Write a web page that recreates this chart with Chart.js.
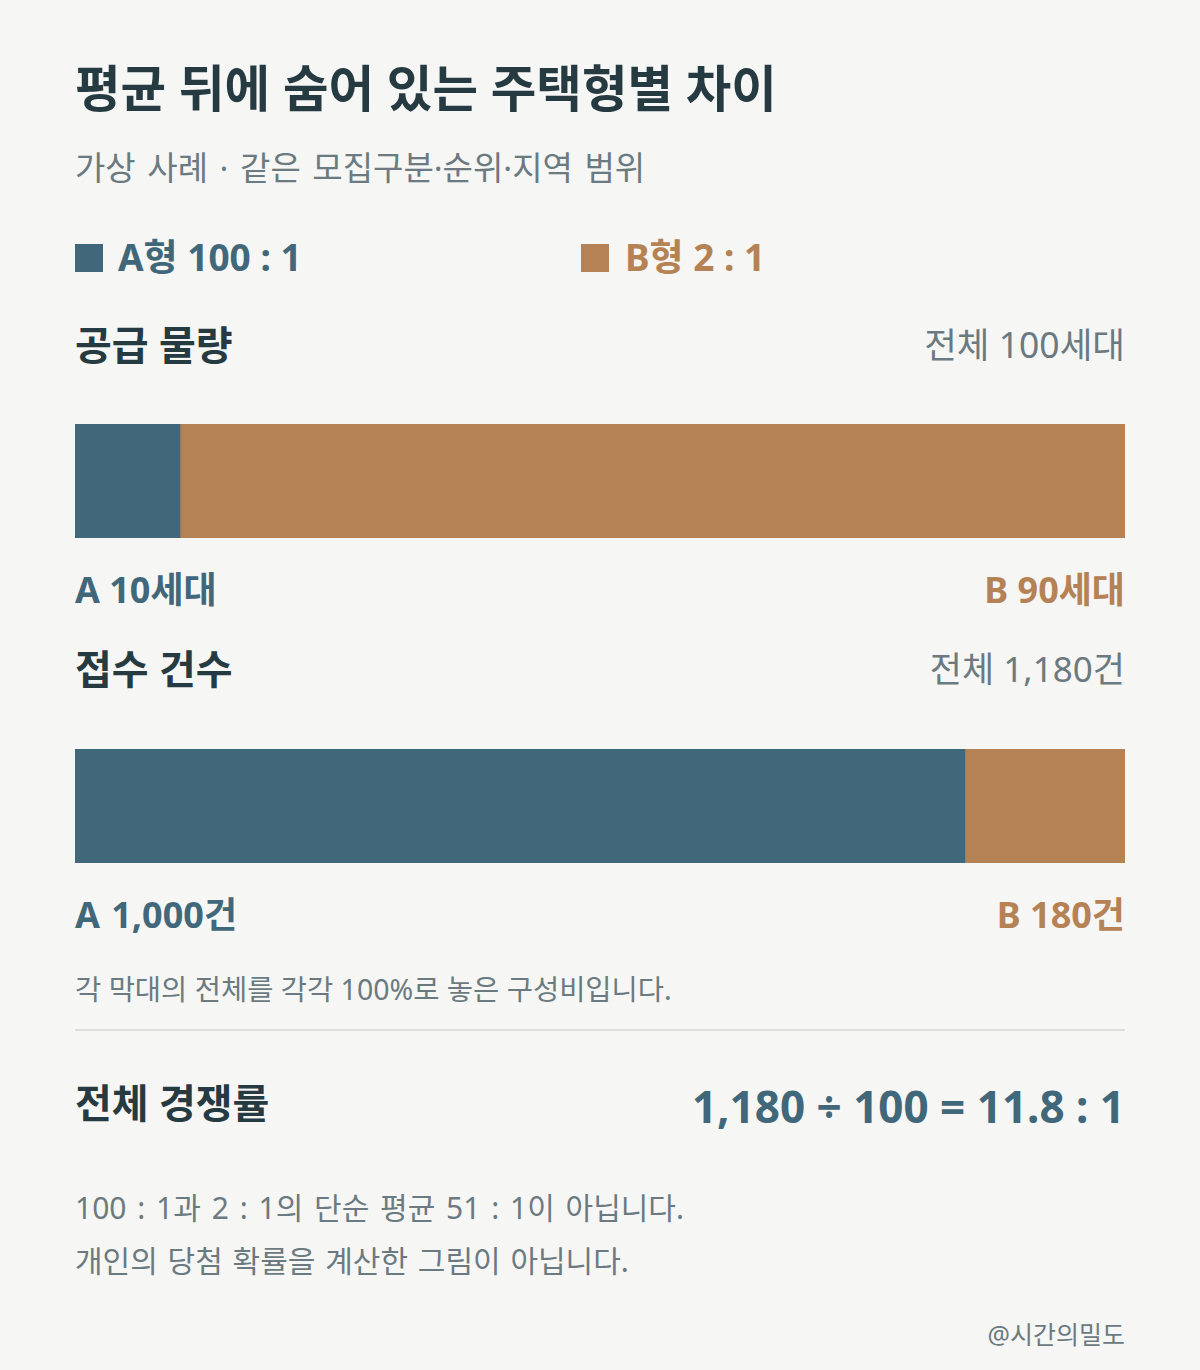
<!DOCTYPE html>
<html>
<head>
<meta charset="utf-8">
<script src="https://cdn.jsdelivr.net/npm/chart.js@4/dist/chart.umd.min.js"></script>
<style>
  html, body { margin: 0; padding: 0; background: #f6f6f4; }
  body { width: 1200px; height: 1370px; position: relative; overflow: hidden;
         font-family: "Noto Sans", "Noto Sans CJK KR", sans-serif; color: #263a42; }
  .t { position: absolute; white-space: nowrap; }
  .r { right: 75px; text-align: right; }
  .l { left: 75px; }
  .bold { font-weight: 700; }
  .gray { color: #6b7a80; }
  .a { color: #41677a; }
  .b { color: #b58255; }
  .sw { position: absolute; width: 28px; height: 28px; }
  .bar { position: absolute; left: 75px; width: 1050px; height: 114px; }
  hr { position: absolute; left: 75px; width: 1050px; top: 1029px; margin: 0; border: 0; border-top: 2px solid #dcdedb; }
</style>
</head>
<body>
<div class="t l bold" style="top:60px;font-size:49.5px;line-height:56px;">평균 뒤에 숨어 있는 주택형별 차이</div>
<div class="t l gray" style="top:149px;font-size:33px;line-height:38px;word-spacing:3px;">가상 사례 · 같은 모집구분·순위·지역 범위</div>

<div class="sw" style="left:75px;top:244px;background:#41677a;"></div>
<div class="t bold a" id="legA" style="left:118px;top:236px;font-size:37px;line-height:42px;"></div>
<div class="sw" style="left:581px;top:244px;background:#b58255;"></div>
<div class="t bold b" id="legB" style="left:625px;top:236px;font-size:37px;line-height:42px;"></div>

<div class="t l bold" id="title1" style="top:323px;font-size:40px;line-height:44px;"></div>
<div class="t r gray" id="total1" style="top:324px;font-size:35.5px;line-height:40px;"></div>
<div class="bar" style="top:424px;"><canvas id="c1"></canvas></div>
<div class="t l bold a" id="lab1a" style="top:570px;font-size:36px;line-height:40px;"></div>
<div class="t r bold b" id="lab1b" style="top:570px;font-size:36px;line-height:40px;"></div>

<div class="t l bold" id="title2" style="top:647px;font-size:40px;line-height:44px;"></div>
<div class="t r gray" id="total2" style="top:649px;font-size:35px;line-height:40px;"></div>
<div class="bar" style="top:749px;"><canvas id="c2"></canvas></div>
<div class="t l bold a" id="lab2a" style="top:895px;font-size:36px;line-height:40px;word-spacing:2px;"></div>
<div class="t r bold b" id="lab2b" style="top:895px;font-size:36px;line-height:40px;"></div>

<div class="t l gray" style="top:973px;font-size:28.5px;line-height:32px;">각 막대의 전체를 각각 100%로 놓은 구성비입니다.</div>
<hr>
<div class="t l bold" style="top:1081px;font-size:40px;line-height:44px;">전체 경쟁률</div>
<div class="t r bold a" id="formula" style="top:1080px;font-size:44px;line-height:52px;"></div>

<div class="t l gray" style="top:1191px;font-size:30px;line-height:34px;word-spacing:3px;">100 : 1과 2 : 1의 단순 평균 51 : 1이 아닙니다.</div>
<div class="t l gray" style="top:1244px;font-size:30px;line-height:34px;word-spacing:2px;">개인의 당첨 확률을 계산한 그림이 아닙니다.</div>
<div class="t r gray" style="top:1319px;font-size:25px;line-height:30px;">@시간의밀도</div>

<script>
// 데이터
var types = ["A", "B"];
var typeColors = ["#41677a", "#b58255"];
var ratios = [100, 2];            // 주택형별 경쟁률 (:1)
var supply = [10, 90];            // 공급 물량 (세대)
var applications = [1000, 180];   // 접수 건수 (건)

var fmt = function (n) { return n.toLocaleString("en-US"); };
var sum = function (arr) { return arr.reduce(function (s, v) { return s + v; }, 0); };

var totalSupply = sum(supply);
var totalApps = sum(applications);

document.getElementById("legA").innerText = types[0] + "형 " + ratios[0] + " : 1";
document.getElementById("legB").innerText = types[1] + "형 " + ratios[1] + " : 1";
document.getElementById("title1").innerText = "공급 물량";
document.getElementById("total1").innerText = "전체 " + fmt(totalSupply) + "세대";
document.getElementById("lab1a").innerText = types[0] + " " + fmt(supply[0]) + "세대";
document.getElementById("lab1b").innerText = types[1] + " " + fmt(supply[1]) + "세대";
document.getElementById("title2").innerText = "접수 건수";
document.getElementById("total2").innerText = "전체 " + fmt(totalApps) + "건";
document.getElementById("lab2a").innerText = types[0] + " " + fmt(applications[0]) + "건";
document.getElementById("lab2b").innerText = types[1] + " " + fmt(applications[1]) + "건";
document.getElementById("formula").innerText =
  fmt(totalApps) + " ÷ " + fmt(totalSupply) + " = " + (totalApps / totalSupply).toFixed(1) + " : 1";

function makeBar(id, values) {
  var total = sum(values);
  var datasets = [];
  for (var i = 0; i < values.length; i++) {
    datasets.push({
      label: types[i],
      data: [values[i] / total * 100],
      backgroundColor: typeColors[i],
      borderWidth: 0,
      borderSkipped: false,
      barPercentage: 1,
      categoryPercentage: 1
    });
  }
  return new Chart(document.getElementById(id), {
    type: "bar",
    data: { labels: [""], datasets: datasets },
    options: {
      indexAxis: "y",
      responsive: true,
      maintainAspectRatio: false,
      animation: false,
      layout: { padding: 0 },
      plugins: { legend: { display: false }, tooltip: { enabled: false } },
      scales: {
        x: { stacked: true, min: 0, max: 100, display: false },
        y: { stacked: true, display: false }
      }
    }
  });
}

makeBar("c1", supply);
makeBar("c2", applications);
</script>
</body>
</html>
